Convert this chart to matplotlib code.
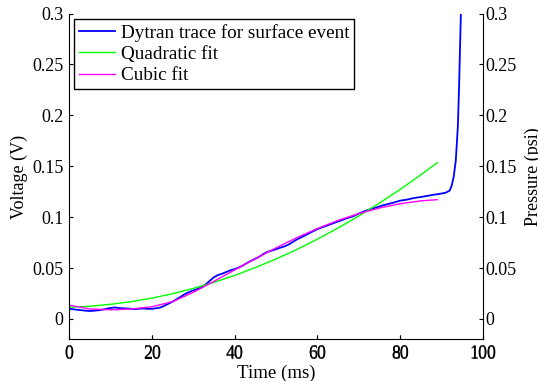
import matplotlib
matplotlib.use('Agg')
import matplotlib.pyplot as plt

plt.rcParams['font.family'] = ['Liberation Serif', 'DejaVu Serif']
plt.rcParams['font.size'] = 13

# Dytran trace (ms, V)
time_ms = [0, 1, 2, 3, 4, 5, 6, 7, 8, 9, 10, 11, 12, 13, 14, 15, 16, 17, 18, 19,
           20, 21, 22, 23, 24, 25, 26, 27, 28, 29, 30, 31, 32, 33, 34, 35, 36, 37, 38, 39,
           40, 41, 42, 43, 44, 45, 46, 47, 48, 49, 50, 51, 52, 53, 54, 55, 56, 57, 58, 59,
           60, 61, 62, 63, 64, 65, 66, 67, 68, 69, 70, 71, 72, 73, 74, 75, 76, 77, 78, 79,
           80, 81, 82, 83, 84, 85, 86, 87, 88, 89, 90, 91, 92, 92.5, 93, 93.5, 94, 94.3,
           94.6, 94.9]
voltage = [0.0100, 0.0095, 0.0090, 0.0086, 0.0081, 0.0078, 0.0081, 0.0085, 0.0091, 0.0100,
           0.0108, 0.0113, 0.0108, 0.0105, 0.0102, 0.0100, 0.0097, 0.0101, 0.0103, 0.0099,
           0.0100, 0.0105, 0.0112, 0.0130, 0.0150, 0.0170, 0.0195, 0.0220, 0.0245, 0.0265,
           0.0280, 0.0295, 0.0310, 0.0340, 0.0375, 0.0410, 0.0432, 0.0445, 0.0462, 0.0478,
           0.0490, 0.0505, 0.0525, 0.0550, 0.0572, 0.0592, 0.0612, 0.0640, 0.0660, 0.0672,
           0.0685, 0.0700, 0.0712, 0.0730, 0.0755, 0.0780, 0.0800, 0.0820, 0.0842, 0.0862,
           0.0882, 0.0898, 0.0912, 0.0928, 0.0942, 0.0958, 0.0972, 0.0988, 0.1000, 0.1015,
           0.1035, 0.1052, 0.1068, 0.1080, 0.1092, 0.1105, 0.1118, 0.1128, 0.1138, 0.1150,
           0.1162, 0.1168, 0.1175, 0.1185, 0.1192, 0.1198, 0.1205, 0.1212, 0.1220, 0.1225,
           0.1232, 0.1240, 0.1260, 0.1310, 0.1400, 0.1560, 0.1900, 0.2300,
           0.2800, 0.3300]

# fitted curves, sampled every 5 ms
fit_time = [0, 5, 10, 15, 20, 25, 30, 35, 40, 45, 50, 55, 60, 65, 70, 75, 80, 85, 89]
quad_fit = [0.0115, 0.0125, 0.0144, 0.0170, 0.0205, 0.0248, 0.0300, 0.0360, 0.0428, 0.0505,
            0.0589, 0.0682, 0.0784, 0.0893, 0.1011, 0.1138, 0.1272, 0.1415, 0.1535]
cubic_fit = [0.0135, 0.0098, 0.0090, 0.0098, 0.0120, 0.0170, 0.0262, 0.0370, 0.0482, 0.0592,
             0.0698, 0.0798, 0.0888, 0.0968, 0.1035, 0.1090, 0.1132, 0.1160, 0.1172]

x_ticks = [0, 20, 40, 60, 80, 100]
y_ticks = [0, 0.05, 0.1, 0.15, 0.2, 0.25, 0.3]
y_labels = ['0', '0.05', '0.1', '0.15', '0.2', '0.25', '0.3']

fig = plt.figure(figsize=(5.38, 3.81), dpi=100)
ax = fig.add_axes([0.1288, 0.1094, 0.7684, 0.8549])

ax.plot(time_ms, voltage, color='#0000ff', lw=1.3, label='Dytran trace for surface event')
ax.plot(fit_time, quad_fit, color='#00ff00', lw=1.0, label='Quadratic fit')
ax.plot(fit_time, cubic_fit, color='#ff00ff', lw=1.0, label='Cubic fit')

ax.set_xlim(0, 100)
ax.set_ylim(-0.02, 0.3)
ax.set_xticks(x_ticks)
ax.set_yticks(y_ticks)
ax.set_yticklabels(y_labels)
ax.tick_params(direction='in', length=3, width=0.8, pad=4)
ax.spines['top'].set_visible(False)
ax.spines['right'].set_visible(False)
for s in ['left', 'bottom']:
    ax.spines[s].set_linewidth(0.8)
ax.set_xlabel('Time (ms)', fontsize=13.6, labelpad=2)
ax.set_ylabel('Voltage (V)', labelpad=3)

# second y axis for pressure
ax2 = ax.twinx()
ax2.set_ylim(-0.02, 0.3)
ax2.set_yticks(y_ticks)
ax2.set_yticklabels(y_labels)
ax2.xaxis.set_visible(True)
ax2.set_xticks(x_ticks)
ax2.tick_params(axis='x', direction='in', length=3, width=0.8, pad=4.6, labelbottom=True)
ax2.tick_params(axis='y', direction='in', length=3, width=0.8, pad=2)
for s in ['top', 'left', 'bottom']:
    ax2.spines[s].set_visible(False)
ax2.spines['right'].set_linewidth(0.8)
ax2.set_ylabel('Pressure (psi)', labelpad=6)

leg = ax.legend(loc='upper left', bbox_to_anchor=(0.0114, 0.983), borderaxespad=0,
                handlelength=1.9, handletextpad=0.3, borderpad=0.25, labelspacing=0.2,
                fancybox=False, framealpha=1, edgecolor='black', fontsize=13.8)
leg.get_frame().set_linewidth(1.0)

fig.savefig('out.png', dpi=100)
